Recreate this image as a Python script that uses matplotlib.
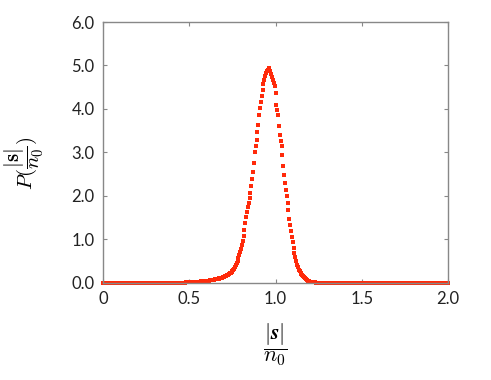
import numpy as np
import matplotlib
matplotlib.use("Agg")
import matplotlib.pyplot as plt

plt.rcParams["mathtext.fontset"] = "cm"
plt.rcParams["font.family"] = ["Lato", "DejaVu Sans"]

# histogram of |s|/n0, bins of width 0.005 starting at 0
bin_start = 0.0
bin_width = 0.005
p_s = [
    0.0, 0.0, 0.0, 0.0, 0.0, 0.0, 0.0, 0.0, 0.0, 0.0, 0.0, 0.0, 0.0, 0.0, 0.0, 0.0, 0.0, 0.0, 0.0, 0.0,
    0.0, 0.0, 0.0, 0.0, 0.0, 0.0, 0.0, 0.0, 0.0, 0.0, 0.0, 0.0, 0.0, 0.0, 0.0, 0.0, 0.0, 0.0, 0.0, 0.0,
    0.0, 0.0, 0.0, 0.0, 0.0, 0.0, 0.0, 0.0, 0.0, 0.0, 0.0, 0.0, 0.0, 0.0, 0.0, 0.0, 0.0, 0.0, 0.0, 0.0,
    0.0, 0.0, 0.0, 0.0, 0.0, 0.0, 0.0, 0.0, 0.0, 0.0, 0.002, 0.002, 0.002, 0.002, 0.002, 0.002, 0.002, 0.002, 0.002, 0.002,
    0.003, 0.003, 0.004, 0.004, 0.005, 0.005, 0.006, 0.006, 0.007, 0.007, 0.008, 0.008, 0.009, 0.010, 0.010, 0.011, 0.012, 0.013, 0.014, 0.015,
    0.016, 0.017, 0.018, 0.019, 0.020, 0.021, 0.022, 0.023, 0.025, 0.026, 0.028, 0.029, 0.031, 0.033, 0.035, 0.037, 0.039, 0.041, 0.043, 0.046,
    0.048, 0.051, 0.054, 0.057, 0.060, 0.063, 0.066, 0.070, 0.074, 0.078, 0.082, 0.086, 0.091, 0.096, 0.101, 0.106, 0.112, 0.118, 0.124, 0.131,
    0.14, 0.15, 0.16, 0.17, 0.18, 0.19, 0.20, 0.22, 0.23, 0.25, 0.27, 0.30, 0.33, 0.37, 0.41, 0.46, 0.51, 0.57, 0.64, 0.71,
    0.79, 0.88, 0.97, 1.07, 1.22, 1.38, 1.51, 1.64, 1.74, 1.84, 1.96, 2.08, 2.22, 2.38, 2.56, 2.75, 3.00, 3.15, 3.28, 3.48,
    3.63, 3.86, 4.02, 4.16, 4.30, 4.44, 4.57, 4.66, 4.76, 4.82, 4.87, 4.90, 4.94, 4.92, 4.88, 4.80, 4.74, 4.67, 4.60, 4.52,
    4.36, 4.10, 3.98, 3.86, 3.62, 3.40, 3.26, 3.14, 2.95, 2.68, 2.48, 2.30, 2.14, 2.00, 1.85, 1.68, 1.48, 1.34, 1.20, 1.06,
    0.94, 0.80, 0.69, 0.60, 0.50, 0.42, 0.36, 0.31, 0.27, 0.24, 0.21, 0.18, 0.15, 0.13, 0.11, 0.09, 0.07, 0.06, 0.05, 0.04,
    0.03, 0.027, 0.024, 0.021, 0.018, 0.015, 0.013, 0.011, 0.009, 0.008, 0.007, 0.006, 0.005, 0.004, 0.004, 0.003, 0.003, 0.002, 0.002, 0.002,
    0.0, 0.0, 0.0, 0.0, 0.0, 0.0, 0.0, 0.0, 0.0, 0.0, 0.0, 0.0, 0.0, 0.0, 0.0, 0.0, 0.0, 0.0, 0.0, 0.0,
    0.0, 0.0, 0.0, 0.0, 0.0, 0.0, 0.0, 0.0, 0.0, 0.0, 0.0, 0.0, 0.0, 0.0, 0.0, 0.0, 0.0, 0.0, 0.0, 0.0,
    0.0, 0.0, 0.0, 0.0, 0.0, 0.0, 0.0, 0.0, 0.0, 0.0, 0.0, 0.0, 0.0, 0.0, 0.0, 0.0, 0.0, 0.0, 0.0, 0.0,
    0.0, 0.0, 0.0, 0.0, 0.0, 0.0, 0.0, 0.0, 0.0, 0.0, 0.0, 0.0, 0.0, 0.0, 0.0, 0.0, 0.0, 0.0, 0.0, 0.0,
    0.0, 0.0, 0.0, 0.0, 0.0, 0.0, 0.0, 0.0, 0.0, 0.0, 0.0, 0.0, 0.0, 0.0, 0.0, 0.0, 0.0, 0.0, 0.0, 0.0,
    0.0, 0.0, 0.0, 0.0, 0.0, 0.0, 0.0, 0.0, 0.0, 0.0, 0.0, 0.0, 0.0, 0.0, 0.0, 0.0, 0.0, 0.0, 0.0, 0.0,
    0.0, 0.0, 0.0, 0.0, 0.0, 0.0, 0.0, 0.0, 0.0, 0.0, 0.0, 0.0, 0.0, 0.0, 0.0, 0.0, 0.0, 0.0, 0.0, 0.0,
    0.0,
]
s_over_n0 = bin_start + bin_width * np.arange(len(p_s))

x_ticks = [0, 0.5, 1.0, 1.5, 2.0]
x_labels = ["0", "0.5", "1.0", "1.5", "2.0"]
y_ticks = [0, 1, 2, 3, 4, 5, 6]
y_labels = ["0.0", "1.0", "2.0", "3.0", "4.0", "5.0", "6.0"]

fig = plt.figure(figsize=(4.91, 3.80), dpi=100)
ax = fig.add_axes([0.2098, 0.2553, 0.7026, 0.6868])

ax.plot(s_over_n0, p_s, linestyle="none", marker="s", markersize=3.0,
        color="#ff2a0a", markeredgewidth=0, clip_on=False)

ax.set_xlim(0, 2.0)
ax.set_ylim(0, 6.0)
ax.set_xticks(x_ticks)
ax.set_xticklabels(x_labels)
ax.set_yticks(y_ticks)
ax.set_yticklabels(y_labels)

for sp in ax.spines.values():
    sp.set_color("#888888")
    sp.set_linewidth(1.0)
ax.tick_params(direction="in", length=3, width=0.8, color="#888888",
               labelsize=12, labelcolor="#222222", top=True, right=True, pad=6)

ax.set_xlabel(r"$\dfrac{|\boldsymbol{s}|}{n_0}$", fontsize=16, labelpad=10)
ax.set_ylabel(r"$P(\dfrac{|\mathbf{s}|}{n_0})$", fontsize=15)
ax.yaxis.set_label_coords(-0.165, 0.46)

fig.savefig("out.png", dpi=100)
